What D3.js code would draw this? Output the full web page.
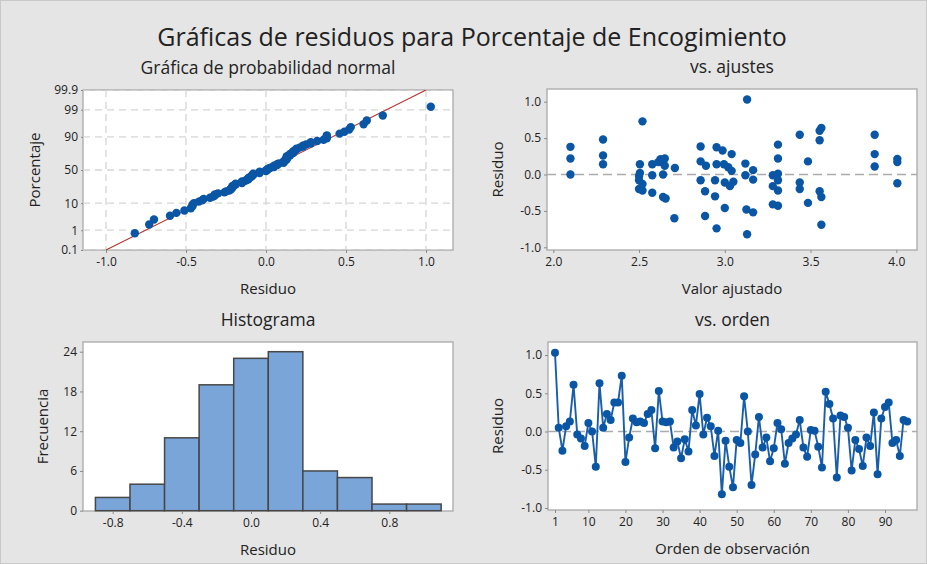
<!DOCTYPE html>
<html><head><meta charset="utf-8">
<script src="https://cdn.jsdelivr.net/npm/d3@7"></script>
<style>
body{margin:0;background:#e4e4e4;}
text{font-family:"Open Sans","Noto Sans",sans-serif;fill:#222;}
</style></head><body>
<svg id="c" width="927" height="564"></svg>
<script>
// ---------------- DATA ----------------
const mainTitle = "Gráficas de residuos para Porcentaje de Encogimiento";
const panelTitles = ["Gráfica de probabilidad normal", "vs. ajustes", "Histograma", "vs. orden"];

// residuals in observation order (1..96)
const residualsByOrder = [
  1.03, 0.05, -0.25, 0.07, 0.13, 0.61, -0.04, -0.09, -0.19, 0.11,
  0.00, -0.46, 0.63, 0.05, 0.23, 0.15, 0.38, 0.38, 0.73, -0.40,
  -0.08, 0.17, 0.12, 0.13, 0.11, 0.23, 0.28, -0.22, 0.53, 0.13,
  0.12, 0.13, -0.21, -0.13, -0.35, -0.10, -0.26, 0.28, 0.08, 0.49,
  -0.04, 0.18, 0.07, -0.32, 0.01, -0.82, -0.12, -0.46, -0.73, -0.11,
  -0.15, 0.46, 0.00, -0.70, -0.30, 0.19, -0.21, -0.08, -0.39, -0.22,
  0.11, 0.03, -0.42, -0.15, -0.09, -0.04, 0.15, -0.21, -0.33, 0.02,
  0.01, -0.20, -0.47, 0.52, 0.36, 0.17, -0.60, 0.21, 0.19, 0.05,
  -0.51, -0.11, -0.23, -0.45, -0.08, -0.19, 0.25, -0.56, 0.17, 0.32,
  0.38, -0.15, -0.11, -0.32, 0.15, 0.13
];

// vs. fits panel: fitted values and matching residuals
const fittedValues = [
  2.10, 2.10, 2.10, 2.29, 2.29, 2.29, 2.52,
  2.505, 2.505, 2.50, 2.50, 2.50, 2.52, 2.52,
  2.577, 2.577, 2.577, 2.612, 2.625, 2.64, 2.64, 2.64, 2.65, 2.65, 2.655,
  2.709, 2.706,
  2.859, 2.859, 2.859, 2.89, 2.885, 2.885,
  2.943, 2.952, 2.952, 2.952, 2.943, 2.987, 2.995, 3.00, 3.00,
  3.04, 3.02, 3.04, 3.03, 3.05,
  3.13, 3.12, 3.12, 3.165, 3.165, 3.165, 3.126, 3.13,
  3.31, 3.31, 3.31, 3.31, 3.31, 3.31, 3.28, 3.28, 3.28,
  3.437, 3.437, 3.437, 3.485, 3.485,
  3.553, 3.553, 3.553, 3.563, 3.563, 3.563,
  3.874, 3.874, 3.874, 4.006, 4.006, 4.006
];
const fittedResiduals = [
  0.38, 0.22, 0.00, 0.48, 0.26, 0.14, 0.73,
  0.14, 0.02, -0.02, -0.08, -0.20, -0.13, -0.22,
  0.14, -0.01, -0.25, 0.17, 0.21, 0.16, 0.00, -0.31, 0.22, 0.12, -0.33,
  0.09, -0.60,
  0.385, 0.18, -0.08, 0.12, -0.23, -0.57,
  -0.30, -0.74, 0.375, 0.14, -0.08, 0.33, 0.14, -0.46, -0.11,
  0.28, 0.10, 0.05, -0.16, -0.10,
  1.03, 0.15, -0.01, 0.06, -0.07, -0.52, -0.48, -0.82,
  0.41, 0.22, 0.01, -0.08, -0.22, -0.43, -0.01, -0.16, -0.41,
  0.545, -0.11, -0.20, 0.18, -0.39,
  0.60, 0.47, -0.23, 0.64, -0.31, -0.69,
  0.545, 0.28, 0.11, 0.215, 0.17, -0.12
];

// histogram
const histBinEdges = [-0.9, -0.7, -0.5, -0.3, -0.1, 0.1, 0.3, 0.5, 0.7, 0.9, 1.1];
const histCounts = [2, 4, 11, 19, 23, 24, 6, 5, 1, 1];

// normal-probability fit line (mean, st. dev.)
const fitMean = 0.0;
const fitStDev = 0.3236;

// tick labels
const probXTicks = [-1.0, -0.5, 0.0, 0.5, 1.0];
const probYTicks = [0.1, 1, 10, 50, 90, 99, 99.9];
const fitsXTicks = [2.0, 2.5, 3.0, 3.5, 4.0];
const residTicks = [-1.0, -0.5, 0.0, 0.5, 1.0];
const histXTicks = [-0.8, -0.4, 0.0, 0.4, 0.8];
const histYTicks = [0, 6, 12, 18, 24];
const orderXTicks = [1, 10, 20, 30, 40, 50, 60, 70, 80, 90];

// ---------------- HELPERS ----------------
function qnorm(p){
  const a=[-3.969683028665376e+01,2.209460984245205e+02,-2.759285104469687e+02,1.383577518672690e+02,-3.066479806614716e+01,2.506628277459239e+00];
  const b=[-5.447609879822406e+01,1.615858368580409e+02,-1.556989798598866e+02,6.680131188771972e+01,-1.328068155288572e+01];
  const c=[-7.784894002430293e-03,-3.223964580411365e-01,-2.400758277161838e+00,-2.549732539343734e+00,4.374664141464968e+00,2.938163982698783e+00];
  const d=[7.784695709041462e-03,3.224671290700398e-01,2.445134137142996e+00,3.754408661907416e+00];
  const pl=0.02425, ph=1-pl; let q,r;
  if(p<pl){q=Math.sqrt(-2*Math.log(p));return (((((c[0]*q+c[1])*q+c[2])*q+c[3])*q+c[4])*q+c[5])/((((d[0]*q+d[1])*q+d[2])*q+d[3])*q+1);}
  if(p<=ph){q=p-0.5;r=q*q;return (((((a[0]*r+a[1])*r+a[2])*r+a[3])*r+a[4])*r+a[5])*q/(((((b[0]*r+b[1])*r+b[2])*r+b[3])*r+b[4])*r+1);}
  q=Math.sqrt(-2*Math.log(1-p));return -(((((c[0]*q+c[1])*q+c[2])*q+c[3])*q+c[4])*q+c[5])/((((d[0]*q+d[1])*q+d[2])*q+d[3])*q+1);
}
const f1 = v => d3.format(".1f")(v).replace("−","-");
const fInt = v => String(v);

const BLUE = "#0a56a5";
const svg = d3.select("#c");
svg.append("rect").attr("width",927).attr("height",564).attr("fill","#e5e5e5");
svg.append("rect").attr("x",0.5).attr("y",0.5).attr("width",926).attr("height",563)
  .attr("fill","none").attr("stroke","#c9c9c9");

svg.append("text").attr("x",472).attr("y",46).attr("text-anchor","middle")
  .style("font-size","25px").text(mainTitle);

function panel(box, title, xLabel, yLabel, yLabelX){
  const g = svg.append("g");
  g.append("rect").attr("x",box.x0).attr("y",box.y0).attr("width",box.x1-box.x0).attr("height",box.y1-box.y0)
    .attr("fill","#fff").attr("stroke","#a9a9a9").attr("stroke-width",1.3);
  const cx=(box.x0+box.x1)/2;
  g.append("text").attr("x",cx).attr("y",box.y0-16).attr("text-anchor","middle").style("font-size","17.5px").text(title);
  g.append("text").attr("x",cx).attr("y",box.y1+44).attr("text-anchor","middle").style("font-size","15px").text(xLabel);
  g.append("text").attr("transform",`translate(${yLabelX},${(box.y0+box.y1)/2}) rotate(-90)`)
    .attr("text-anchor","middle").style("font-size","15px").text(yLabel);
  const clipId = "clip"+Math.round(box.x0)+"_"+Math.round(box.y0);
  g.append("clipPath").attr("id",clipId).append("rect")
    .attr("x",box.x0).attr("y",box.y0).attr("width",box.x1-box.x0).attr("height",box.y1-box.y0);
  const inner = g.append("g").attr("clip-path",`url(#${clipId})`);
  return {g, inner};
}
function styleAxis(sel){
  sel.select(".domain").remove();
  sel.selectAll(".tick line").attr("stroke","#8a8a8a");
  sel.selectAll(".tick text").style("font-size","12px").attr("fill","#222");
}

// ---------------- NORMAL PROBABILITY ----------------
{
  const box={x0:83,x1:453,y0:90,y1:250};
  const {g,inner}=panel(box,panelTitles[0],"Residuo","Porcentaje",40);
  const x=d3.scaleLinear().domain([-1,1]).range([106,426]);
  const y=d3.scaleLinear().domain([qnorm(0.001),qnorm(0.999)]).range([box.y1,box.y0]);
  inner.selectAll(".gx").data(probXTicks).join("line")
    .attr("x1",d=>x(d)).attr("x2",d=>x(d)).attr("y1",box.y0).attr("y2",box.y1)
    .attr("stroke","#d6d6d6").attr("stroke-width",1.3).attr("stroke-dasharray","7,5");
  inner.selectAll(".gy").data(probYTicks).join("line")
    .attr("x1",box.x0).attr("x2",box.x1).attr("y1",d=>y(qnorm(d/100))).attr("y2",d=>y(qnorm(d/100)))
    .attr("stroke","#d6d6d6").attr("stroke-width",1.3).attr("stroke-dasharray","7,5");
  const z0=qnorm(0.001), z1=qnorm(0.999);
  inner.append("line").attr("x1",x(fitMean+z0*fitStDev)).attr("y1",y(z0))
    .attr("x2",x(fitMean+z1*fitStDev)).attr("y2",y(z1)).attr("stroke","#b3312c").attr("stroke-width",1.1);
  const sorted=[...residualsByOrder].sort((a,b)=>a-b); const n=sorted.length;
  const pts=sorted.map((v,i)=>({v, z:qnorm((i+1-0.3)/(n+0.4))}));
  inner.selectAll(".pt").data(pts).join("circle").attr("cx",d=>x(d.v)).attr("cy",d=>y(d.z)).attr("r",4.2).attr("fill",BLUE);
  const ax=g.append("g").attr("transform",`translate(0,${box.y1})`)
    .call(d3.axisBottom(x).tickValues(probXTicks).tickSize(3).tickPadding(4).tickFormat(f1));
  styleAxis(ax);
  const ay=g.append("g").attr("transform",`translate(${box.x0},0)`)
    .call(d3.axisLeft(d3.scaleLinear().domain(y.domain()).range(y.range()))
      .tickValues(probYTicks.map(p=>qnorm(p/100))).tickSize(2).tickPadding(3)
      .tickFormat((d,i)=>String(probYTicks[i])));
  styleAxis(ay);
}

// ---------------- VS FITS ----------------
{
  const box={x0:547,x1:917,y0:89,y1:250};
  const {g,inner}=panel(box,panelTitles[1],"Valor ajustado","Residuo",503);
  const x=d3.scaleLinear().domain([2,4]).range([553.3,896.3]);
  const y=d3.scaleLinear().domain([-1,1]).range([247.3,101.7]);
  inner.append("line").attr("x1",box.x0).attr("x2",box.x1).attr("y1",y(0)).attr("y2",y(0))
    .attr("stroke","#ababab").attr("stroke-width",1.6).attr("stroke-dasharray","9,5");
  inner.selectAll(".pt").data(fittedValues).join("circle")
    .attr("cx",d=>x(d)).attr("cy",(d,i)=>y(fittedResiduals[i])).attr("r",4.2).attr("fill",BLUE);
  const ax=g.append("g").attr("transform",`translate(0,${box.y1})`)
    .call(d3.axisBottom(x).tickValues(fitsXTicks).tickSize(3).tickPadding(4).tickFormat(f1));
  styleAxis(ax);
  const ay=g.append("g").attr("transform",`translate(${box.x0},0)`)
    .call(d3.axisLeft(y).tickValues(residTicks).tickSize(3).tickPadding(3).tickFormat(f1));
  styleAxis(ay);
}

// ---------------- HISTOGRAM ----------------
{
  const box={x0:83,x1:453,y0:342,y1:511};
  const {g,inner}=panel(box,panelTitles[2],"Residuo","Frecuencia",48);
  const x=d3.scaleLinear().domain([-0.8,0.8]).range([112.7,389.3]);
  const y=d3.scaleLinear().domain([0,24]).range([510.7,351.7]);
  const bins=histCounts.map((c,i)=>({x0:histBinEdges[i],x1:histBinEdges[i+1],c}));
  g.selectAll(".bar").data(bins).join("rect")
    .attr("x",d=>x(d.x0)).attr("width",d=>x(d.x1)-x(d.x0))
    .attr("y",d=>y(d.c)).attr("height",d=>y(0)-y(d.c))
    .attr("fill","#7aa5d8").attr("stroke","#474747").attr("stroke-width",1.5);
  const ax=g.append("g").attr("transform",`translate(0,${box.y1})`)
    .call(d3.axisBottom(x).tickValues(histXTicks).tickSize(3).tickPadding(4).tickFormat(f1));
  styleAxis(ax);
  const ay=g.append("g").attr("transform",`translate(${box.x0},0)`)
    .call(d3.axisLeft(y).tickValues(histYTicks).tickSize(3).tickPadding(3).tickFormat(fInt));
  styleAxis(ay);
}

// ---------------- VS ORDER ----------------
{
  const box={x0:548,x1:917,y0:342,y1:510};
  const {g,inner}=panel(box,panelTitles[3],"Orden de observación","Residuo",503);
  const x=d3.scaleLinear().domain([1,90]).range([555,885]);
  const y=d3.scaleLinear().domain([-1,1]).range([508,355]);
  inner.append("line").attr("x1",box.x0).attr("x2",box.x1).attr("y1",y(0)).attr("y2",y(0))
    .attr("stroke","#ababab").attr("stroke-width",1.6).attr("stroke-dasharray","9,5");
  const line=d3.line().x((d,i)=>x(i+1)).y(d=>y(d));
  inner.append("path").datum(residualsByOrder).attr("d",line).attr("fill","none")
    .attr("stroke","#1a5eab").attr("stroke-width",1.9);
  inner.selectAll(".pt").data(residualsByOrder).join("circle")
    .attr("cx",(d,i)=>x(i+1)).attr("cy",d=>y(d)).attr("r",4).attr("fill",BLUE);
  const ax=g.append("g").attr("transform",`translate(0,${box.y1})`)
    .call(d3.axisBottom(x).tickValues(orderXTicks).tickSize(3).tickPadding(4).tickFormat(fInt));
  styleAxis(ax);
  const ay=g.append("g").attr("transform",`translate(${box.x0},0)`)
    .call(d3.axisLeft(y).tickValues(residTicks).tickSize(3).tickPadding(3).tickFormat(f1));
  styleAxis(ay);
}
</script></body></html>
